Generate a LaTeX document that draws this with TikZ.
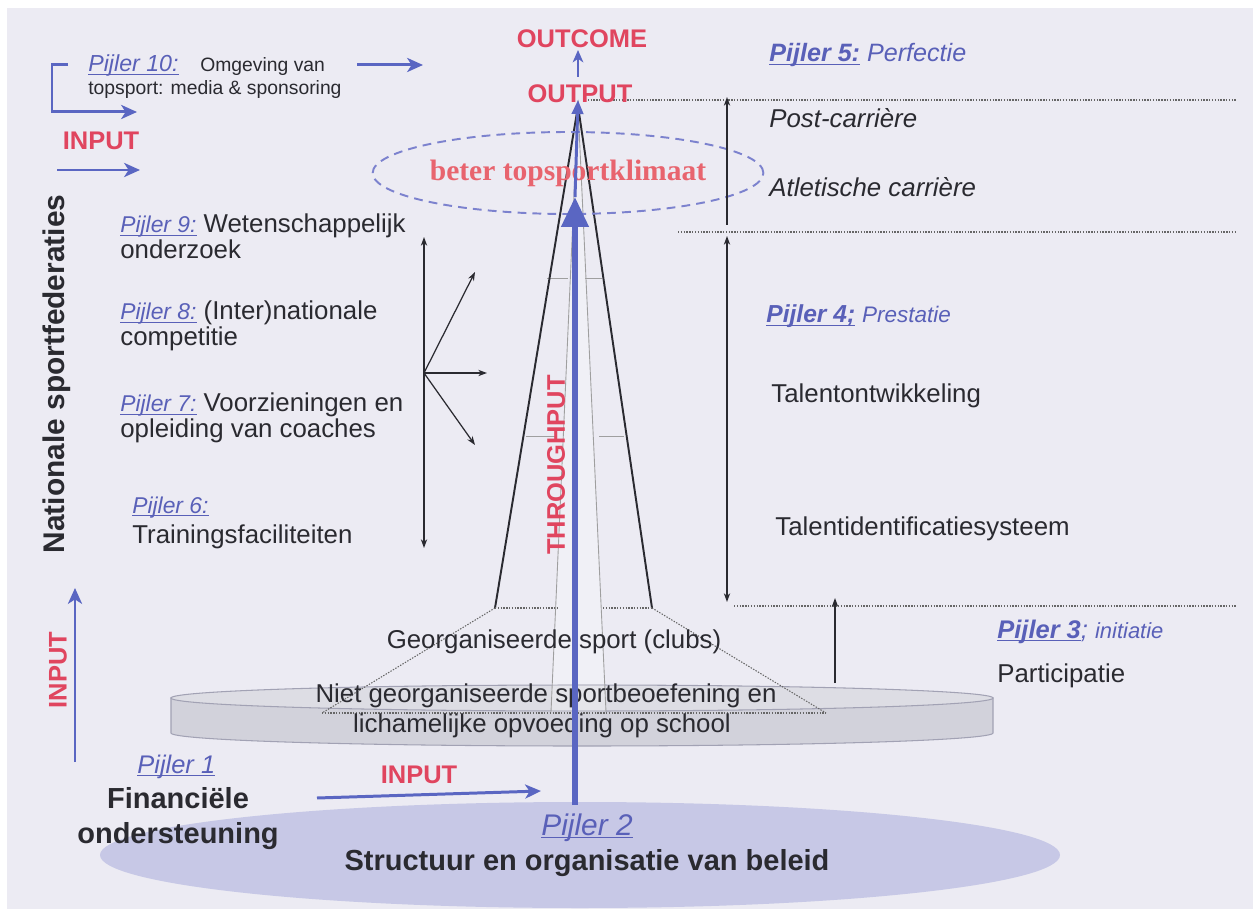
\documentclass[tikz,border=0pt]{standalone}
\usepackage{fontspec}
\setmainfont{Liberation Sans}
\newfontfamily\serifrm{Liberation Serif}
\usetikzlibrary{arrows.meta,shapes.geometric}
\definecolor{bg}{HTML}{ECEBF3}
\definecolor{redl}{HTML}{E0455F}
\definecolor{redk}{HTML}{E8646E}
\definecolor{bluea}{HTML}{5A66C2}
\definecolor{bluet}{HTML}{5960B8}
\definecolor{bluedash}{HTML}{7C82CE}
\definecolor{txt}{HTML}{2A2A30}
\definecolor{disktop}{HTML}{DDDDE4}
\definecolor{diskside}{HTML}{D2D2DB}
\definecolor{diskedge}{HTML}{A2A2B4}
\definecolor{baseel}{HTML}{C7C8E6}
\newsavebox{\ulbox}
\newcommand{\ulin}[1]{\sbox{\ulbox}{#1}\rlap{\rule[-1.7pt]{\wd\ulbox}{0.55pt}}\usebox{\ulbox}}
\newcommand{\pj}[1]{{\color{bluet}\itshape\fontsize{13pt}{15pt}\selectfont\ulin{#1}}}
\begin{document}
\begin{tikzpicture}[x=0.02cm,y=-0.02cm,
 bodytxt/.style={inner sep=0pt, text=txt, font=\fontsize{14.7pt}{17pt}\selectfont},
 redtxt/.style={inner sep=0pt, text=redl, font=\bfseries\fontsize{14.5pt}{17pt}\selectfont},
 bigtxt/.style={inner sep=0pt, text=txt, font=\bfseries\fontsize{16.5pt}{19pt}\selectfont},
 bluearr/.style={draw=bluea, line width=1.7pt, -{Stealth[length=9pt,width=8pt,inset=2.5pt]}},
 blackarr/.style={draw=txt, line width=0.7pt, -{Stealth[length=5pt,width=3.6pt]}},
 blackdbl/.style={draw=txt, line width=0.7pt, {Stealth[length=5pt,width=3.6pt]}-{Stealth[length=5pt,width=3.6pt]}},
 dotln/.style={draw=gray!80!black, line width=0.6pt, dash pattern=on 0.8pt off 0.8pt},
 outerln/.style={draw=txt, line width=1.1pt},
 innerln/.style={draw=gray!75, line width=0.5pt},
]
\useasboundingbox (0,0) rectangle (1256,911);
\fill[white] (0,0) rectangle (1256,911);
\fill[bg] (7,8) rectangle (1253,909);

% base ellipse (Pijler 2)
\fill[baseel] (580,855) ellipse [x radius=480, y radius=53];

% disk
\filldraw[fill=diskside, draw=diskedge, line width=0.6pt] (171,698) -- (171,733) arc[start angle=180, end angle=0, x radius=411, y radius=13] -- (993,698) -- cycle;
\filldraw[fill=disktop, draw=diskedge, line width=0.6pt] (582,698) ellipse [x radius=411, y radius=13];

% pyramid
\coordinate (apex) at (578,106);
\coordinate (bl) at (495,608);
\coordinate (br) at (652,608);
\coordinate (il) at (551,712);
\coordinate (ir) at (606,712);
\coordinate (dl) at (322,713);
\coordinate (dr) at (826,713);
\coordinate (bil) at (557,608);
\coordinate (bir) at (603,608);
\fill[white, opacity=0.25] (apex) -- (il) -- (ir) -- cycle;
\draw[innerln] (apex) -- (il);
\draw[innerln] (apex) -- (ir);
\coordinate (t1a) at (547,278); \coordinate (t1b) at (568,278);
\coordinate (t1c) at (585,278); \coordinate (t1d) at (602,278);
\coordinate (t2a) at (526,436); \coordinate (t2b) at (557,436);
\coordinate (t2c) at (599,436); \coordinate (t2d) at (624,436);
\draw[innerln] (t1a) -- (t1b); \draw[innerln] (t1c) -- (t1d);
\draw[innerln] (t2a) -- (t2b); \draw[innerln] (t2c) -- (t2d);
\draw[outerln] (bl) -- (apex) -- (br);
\draw[dotln] (bl) -- (bil);
\draw[dotln] (bir) -- (br);
\draw[dotln] (bl) -- (dl);
\draw[dotln] (br) -- (dr);
\draw[dotln] (dl) -- (dr);

% right dotted levels
\coordinate (h1a) at (585,100); \coordinate (h1b) at (1236,100);
\coordinate (h2a) at (678,232); \coordinate (h2b) at (1236,232);
\coordinate (h3a) at (734,606); \coordinate (h3b) at (1236,606);
\draw[dotln] (h1a) -- (h1b);
\draw[dotln] (h2a) -- (h2b);
\draw[dotln] (h3a) -- (h3b);

% dashed ellipse
\node[draw=bluedash, dash pattern=on 5pt off 3.5pt, line width=1.1pt, ellipse, minimum width=5.5cm, minimum height=1.64cm, inner sep=0pt,
  text=redk, font=\serifrm\bfseries\fontsize{16.8pt}{19pt}\selectfont] (klimaat) at (568,173) {beter topsportklimaat};

% top labels
\node[redtxt, anchor=base] (outcome) at (582,48) {OUTCOME};
\node[redtxt, anchor=base] (output) at (580,103) {OUTPUT};
\node[redtxt, anchor=base] (input1) at (101,150) {INPUT};
\node[inner sep=0pt, anchor=base west, text=bluet, font=\itshape\fontsize{13.2pt}{15pt}\selectfont] (p10lab) at (88,72) {\ulin{Pijler 10:}};
\node[inner sep=0pt, anchor=base west, text=txt, font=\fontsize{11pt}{13pt}\selectfont] (p10a) at (200,72) {Omgeving van};
\node[inner sep=0pt, anchor=base west, text=txt, font=\fontsize{11pt}{13pt}\selectfont] (p10b) at (88,95) {topsport: media \& sponsoring};

% right column
\node[inner sep=0pt, anchor=base west, text=bluet, font=\itshape\fontsize{14.3pt}{17pt}\selectfont] (p5) at (769,62) {{\bfseries\ulin{Pijler 5:}} Perfectie};
\node[bodytxt, anchor=base west, font=\itshape\fontsize{14.7pt}{17pt}\selectfont] (post) at (769,128) {Post-carrière};
\node[bodytxt, anchor=base west, font=\itshape\fontsize{14.7pt}{17pt}\selectfont] (atl) at (769,197) {Atletische carrière};
\node[inner sep=0pt, anchor=base west, text=bluet, font=\itshape\fontsize{14pt}{17pt}\selectfont] (p4) at (766,323) {{\bfseries\ulin{Pijler 4;}} {\fontsize{12.8pt}{15pt}\selectfont Prestatie}};
\node[bodytxt, anchor=base west] (tontw) at (771,403) {Talentontwikkeling};
\node[bodytxt, anchor=base west] (tident) at (775,535) {Talentidentificatiesysteem};
\node[inner sep=0pt, anchor=base west, text=bluet, font=\itshape\fontsize{14.5pt}{17pt}\selectfont] (p3) at (997,638) {{\bfseries\ulin{Pijler 3}}; {\fontsize{12.5pt}{15pt}\selectfont initiatie}};
\node[bodytxt, anchor=base west] (partic) at (997,682) {Participatie};

% left column
\node[inner sep=0pt, rotate=90, text=txt, font=\bfseries\fontsize{17pt}{19pt}\selectfont] (nat) at (57,374) {Nationale sportfederaties};
\node[bodytxt, anchor=base west] (p9) at (120,233) {\pj{Pijler 9:} Wetenschappelijk};
\node[bodytxt, anchor=base west] (p9b) at (120,259) {onderzoek};
\node[bodytxt, anchor=base west] (p8) at (120,320) {\pj{Pijler 8:} (Inter)nationale};
\node[bodytxt, anchor=base west] (p8b) at (120,346) {competitie};
\node[bodytxt, anchor=base west] (p7) at (120,412) {\pj{Pijler 7:} Voorzieningen en};
\node[bodytxt, anchor=base west] (p7b) at (120,438) {opleiding van coaches};
\node[bodytxt, anchor=base west] (p6) at (132,513) {\pj{Pijler 6:}};
\node[bodytxt, anchor=base west] (p6b) at (132,543) {Trainingsfaciliteiten};
\node[redtxt, rotate=90] (input3) at (58,670) {INPUT};

% center texts
\node[bodytxt, anchor=base] (georg) at (554,648) {Georganiseerde sport (clubs)};
\node[bodytxt, anchor=base] (niet) at (546,702) {Niet georganiseerde sportbeoefening en};
\node[bodytxt, anchor=base] (lich) at (542,732) {lichamelijke opvoeding op school};
\node[redtxt, rotate=90] (through) at (556,465) {THROUGHPUT};

% bottom
\node[inner sep=0pt, anchor=base west, text=bluet, font=\itshape\fontsize{14.5pt}{17pt}\selectfont] (p1) at (137,773) {\ulin{Pijler 1}};
\node[bigtxt, anchor=base] (fin) at (178,808) {Financiële};
\node[bigtxt, anchor=base] (onder) at (178,843) {ondersteuning};
\node[redtxt, anchor=base] (input2) at (419,783) {INPUT};
\node[inner sep=0pt, anchor=base, text=bluet, font=\itshape\fontsize{17pt}{19pt}\selectfont] (p2) at (587,835) {\ulin{Pijler 2}};
\node[bigtxt, anchor=base] (struct) at (587,870) {Structuur en organisatie van beleid};

% blue arrows
\coordinate (br1) at (68,65); \coordinate (br2) at (52,65); \coordinate (br3) at (52,112); \coordinate (br4) at (137,112);
\draw[bluearr, line join=miter] (br1) -- (br2) -- (br3) -- (br4);
\coordinate (a10s) at (357,65); \coordinate (a10e) at (423,65);
\draw[bluearr] (a10s) -- (a10e);
\coordinate (in1s) at (57,170); \coordinate (in1e) at (140,170);
\draw[bluearr] (in1s) -- (in1e);
\coordinate (lvs) at (75,762); \coordinate (lve) at (75,588);
\draw[bluearr] (lvs) -- (lve);
\coordinate (in2s) at (317,798); \coordinate (in2e) at (541,791);
\draw[bluearr] (in2s) -- (in2e);
\coordinate (ocs) at (578,77); \coordinate (oce) at (578,50);
\draw[draw=bluea, line width=1.5pt, -{Stealth[length=7pt,width=6pt,inset=2pt]}] (ocs) -- (oce);
\coordinate (thb) at (575,805); \coordinate (tht) at (575,197); \coordinate (thp) at (578,100);
\draw[draw=bluea, line width=3.4pt, -{Triangle[length=17pt,width=15pt]}] (thb) -- (tht);
\draw[draw=bluea, line width=1.7pt, -{Triangle[length=8pt,width=6.5pt]}] (tht) -- (thp);

% black arrows
\coordinate (vt) at (424,237); \coordinate (vb) at (424,548); \coordinate (fo) at (424,373);
\coordinate (fu) at (475,272); \coordinate (fh) at (487,373); \coordinate (fd) at (475,445);
\draw[blackdbl] (vb) -- (vt);
\draw[blackarr] (fo) -- (fu);
\draw[blackarr] (fo) -- (fh);
\draw[blackarr] (fo) -- (fd);
\coordinate (r1b) at (727,225); \coordinate (r1t) at (727,97);
\draw[blackarr] (r1b) -- (r1t);
\coordinate (r2t) at (727,236); \coordinate (r2b) at (727,602);
\draw[blackdbl] (r2t) -- (r2b);
\coordinate (r3b) at (835,683); \coordinate (r3t) at (835,598);
\draw[blackarr] (r3b) -- (r3t);
\end{tikzpicture}
\end{document}
